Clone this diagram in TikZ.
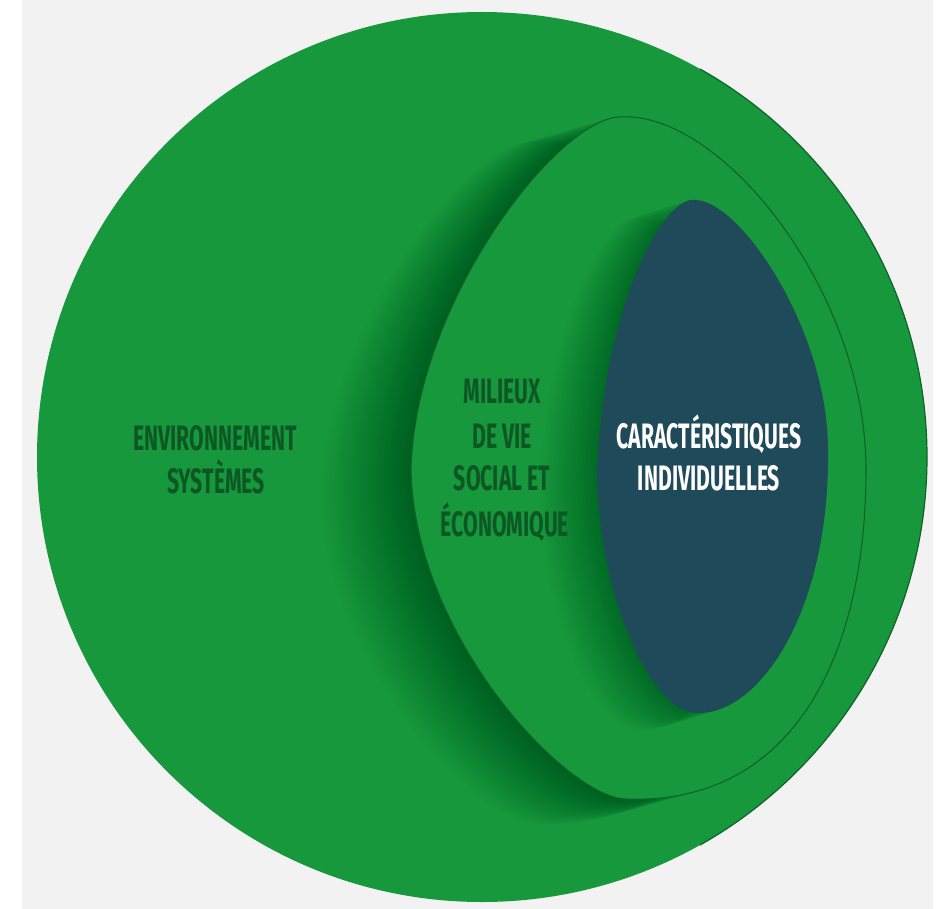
\documentclass[tikz,border=0pt]{standalone}
\usepackage{fontspec}
\newfontfamily\agency[FakeStretch=0.6]{Fira Sans}
\definecolor{bg}{HTML}{F2F2F2}
\definecolor{leaf}{HTML}{17983C}
\definecolor{leafline}{HTML}{0D6328}
\definecolor{navy}{HTML}{1F4A59}
\definecolor{txtgreen}{HTML}{0C5724}
\tikzset{
  midshape/.style={insert path={(620,117) .. controls (720,110) and (866,290) .. (866,470)
     .. controls (866,660) and (790,805) .. (627,799)
     .. controls (570,800) and (415,640) .. (411,470)
     .. controls (415,300) and (560,117) .. (620,117) -- cycle}},
  innershape/.style={insert path={(695,200) .. controls (740,200) and (828,330) .. (828,450)
     .. controls (830,610) and (760,715) .. (697,713)
     .. controls (650,713) and (597,590) .. (597,470)
     .. controls (605,300) and (665,195) .. (695,200) -- cycle}},
  lbl/.style={font=\agency\bfseries\fontsize{26.5}{30}\selectfont, inner sep=0pt, anchor=base},
  shade1/.style={black, opacity=0.013}
}
\begin{document}
\begin{tikzpicture}[x=0.75pt,y=-0.75pt]
\useasboundingbox (0,0) rectangle (945,909);
\fill[white] (0,0) rectangle (945,909);
\fill[bg] (22,0) rectangle (933,909);
% outer circle
\fill[leaf] (482,457) circle[radius=445];
\begin{scope}
  \clip (700,0) rectangle (945,909);
  \draw[leafline, line width=0.9pt] (482,457) circle[radius=445];
\end{scope}
% shadow of the middle shape
\begin{scope}
  \clip (482,457) circle[radius=444];
  \foreach \k in {1,...,28} {
    \fill[shade1, shift={(-\k*3.2,\k*0.9)}, midshape];
  }
\end{scope}
% middle shape
\fill[leaf, midshape];
\draw[leafline, line width=0.8pt, midshape];
% shadow of inner shape
\begin{scope}
  \clip[midshape];
  \foreach \k in {1,...,22} {
    \fill[shade1, shift={(-\k*2.6,\k*0.8)}, innershape];
  }
\end{scope}
% inner shape
\fill[navy, innershape];
% texts
\node[lbl, txtgreen] (env1) at (215,450) {ENVIRONNEMENT};
\node[lbl, txtgreen] (env2) at (216,493) {SYSTÈMES};
\node[lbl, txtgreen] (mil1) at (502,403) {MILIEUX};
\node[lbl, txtgreen] (mil2) at (502,448) {DE VIE};
\node[lbl, txtgreen] (mil3) at (502,490) {SOCIAL ET};
\node[lbl, txtgreen] (mil4) at (505,536) {ÉCONOMIQUE};
\node[lbl, white] (car1) at (709,448) {CARACTÉRISTIQUES};
\node[lbl, white] (car2) at (709,490) {INDIVIDUELLES};
\end{tikzpicture}
\end{document}
